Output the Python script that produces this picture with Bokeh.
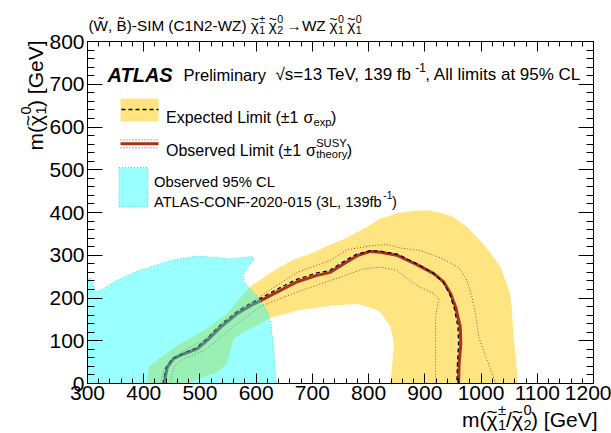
import math
from bokeh.plotting import figure
from bokeh.models import Range1d, LinearAxis, SingleIntervalTicker, Label
from bokeh.embed import file_html
from bokeh.resources import INLINE

# ---------------- data (GeV) ----------------
# expected +-1 sigma band: outer (upper) edge, left -> right
band_up_x = [406, 409, 430, 465, 507, 548, 588, 631, 667, 700, 732, 760, 791, 820, 850, 880, 905, 930, 950, 975, 1004, 1035, 1052, 1055, 1058, 1063, 1065]
band_up_y = [0, 38, 61, 93, 124, 163, 225, 264, 290, 305, 325, 340, 362, 385, 398, 404, 405, 399, 390, 366, 327, 272, 210, 171, 108, 46, 0]
# inner (lower) edge, right -> left
band_dn_x = [839, 842, 845, 839, 821, 803, 780, 732, 673, 625, 596, 572, 560, 554, 548, 530, 507, 489, 480]
band_dn_y = [0, 46, 93, 132, 167, 178, 186, 182, 171, 153, 132, 116, 104, 77, 46, 26, 15, 7, 0]

# observed limit
obs_x = [436, 442, 453, 471, 495, 513, 537, 566, 590, 608, 643, 673, 708, 732, 756, 780, 803, 821, 850, 886, 916, 934, 946, 955, 963, 964, 961, 960]
obs_y = [0, 38, 58, 69, 81, 101, 132, 163, 182, 194, 218, 238, 253, 260, 280, 299, 309, 307, 300, 278, 257, 237, 210, 178, 132, 93, 46, 0]
# expected limit
exp_x = [434, 440, 451, 469, 493, 511, 535, 564, 588, 606, 641, 671, 706, 730, 754, 778, 803, 823, 852, 886, 914, 932, 944, 952, 959, 960, 958, 957]
exp_y = [0, 38, 58, 70, 83, 103, 135, 166, 186, 198, 223, 243, 258, 264, 284, 302, 311, 309, 302, 280, 259, 238, 210, 178, 132, 93, 46, 0]
# observed +1 sigma(theory)
obs_up_x = [430, 436, 453, 477, 507, 537, 566, 602, 614, 673, 732, 762, 803, 833, 857, 892, 928, 960, 975, 984, 990, 996, 1011, 1026]
obs_up_y = [0, 34, 62, 81, 101, 140, 171, 198, 210, 260, 288, 313, 322, 325, 317, 311, 294, 272, 241, 202, 163, 108, 54, 0]
# observed -1 sigma(theory)
obs_dn_x = [448, 453, 471, 507, 531, 566, 602, 614, 673, 732, 791, 821, 850, 886, 916, 925, 919, 919, 919]
obs_dn_y = [0, 38, 58, 77, 101, 140, 175, 184, 214, 241, 268, 272, 265, 229, 210, 198, 155, 93, 0]

# ATLAS-CONF-2020-015 (3L) observed 95% CL region
cl3_x = [300, 300, 305, 310, 313, 329, 350, 388, 448, 495, 525, 554, 575, 593, 596, 586, 577, 579, 600, 620, 626, 631, 634, 636]
cl3_y = [0, 248, 245, 236, 213, 222, 240, 262, 288, 298, 295, 291, 294, 297, 290, 274, 255, 235, 207, 171, 140, 85, 30, 0]

X_MIN, X_MAX = 300, 1200
Y_MIN, Y_MAX = 0, 800

YELLOW = "#ffe482"
CYAN = "#00ffff"
RED = "#a8321c"
DOT = "#b5452b"
FONT = "Liberation Sans"

# canvas and plot-box placement (canvas pixels)
W, H = 611, 433
FL, FR, FT, FB = 87, 593, 41, 383
sx = (X_MAX - X_MIN) / (FR - FL)
sy = (Y_MAX - Y_MIN) / (FB - FT)

p = figure(width=W, height=H,
           x_range=Range1d(X_MIN - FL * sx, X_MAX + (W - FR) * sx),
           y_range=Range1d(Y_MIN - (H - FB) * sy, Y_MAX + FT * sy),
           x_axis_location=None, y_axis_location=None,
           output_backend="svg", toolbar_location=None,
           min_border=0, min_border_left=0, min_border_right=0,
           min_border_top=0, min_border_bottom=0)
p.title.visible = False
p.extra_x_ranges = {"px": Range1d(0, W)}
p.extra_y_ranges = {"px": Range1d(H, 0)}
p.xgrid.visible = False
p.ygrid.visible = False
p.outline_line_color = None
p.background_fill_color = "white"
p.border_fill_color = "white"

# ---------------- data glyphs ----------------
p.patch(band_up_x + band_dn_x, band_up_y + band_dn_y, fill_color=YELLOW, line_color=None)
p.line(obs_up_x, obs_up_y, line_color=DOT, line_width=1, line_dash="1 2")
p.line(obs_dn_x, obs_dn_y, line_color=DOT, line_width=1, line_dash="1 2")
p.line(obs_x, obs_y, line_color=RED, line_width=3)
p.line(exp_x, exp_y, line_color="black", line_width=1.3, line_dash="4 3")
p.patch(cl3_x, cl3_y, fill_color=CYAN, fill_alpha=0.4, line_color="#33dddd", line_width=1, line_dash="1 2")


# ---------------- axes (box drawn by four axes) ----------------
def make_axis(loc, bounds, major, minor, labels):
    ax = LinearAxis(fixed_location=loc, bounds=bounds)
    ax.ticker = SingleIntervalTicker(interval=100, num_minor_ticks=5)
    ax.major_tick_in = major
    ax.major_tick_out = 0
    ax.minor_tick_in = minor
    ax.minor_tick_out = 0
    ax.major_tick_line_color = "black"
    ax.minor_tick_line_color = "black"
    ax.axis_line_color = "black"
    ax.axis_line_width = 1
    if labels:
        ax.major_label_text_font = FONT
        ax.major_label_text_font_size = "21px"
        ax.major_label_text_color = "black"
    else:
        ax.major_label_text_color = None
    return ax


bottom = make_axis(Y_MIN, (X_MIN, X_MAX), 10, 5, True)
bottom.major_label_standoff = 2
p.add_layout(bottom, "below")
left = make_axis(X_MIN, (Y_MIN, Y_MAX), 15, 7, True)
left.major_label_standoff = 3
p.add_layout(left, "left")
p.add_layout(make_axis(Y_MAX, (X_MIN, X_MAX), 10, 5, False), "above")
p.add_layout(make_axis(X_MAX, (Y_MIN, Y_MAX), 15, 7, False), "right")

# ---------------- rich text helper ----------------
WID = {' ': 278, '(': 333, ')': 333, ',': 278, '-': 333, '.': 278, '/': 278, '=': 584, '[': 278, ']': 278,
       '%': 889, '±': 584, '√': 549, '→': 1000, 'χ': 520, 'σ': 600, '~': 584, '\u0303': 0}
for c in "0123456789":
    WID[c] = 556
WID.update({'A': 667, 'B': 667, 'C': 722, 'D': 722, 'E': 667, 'F': 611, 'G': 778, 'I': 278, 'L': 556,
            'M': 833, 'N': 722, 'O': 778, 'P': 667, 'S': 667, 'T': 611, 'U': 722, 'V': 667, 'W': 944,
            'Y': 667, 'Z': 611, 'a': 556, 'b': 556, 'c': 500, 'd': 556, 'e': 556, 'f': 278, 'h': 556,
            'i': 222, 'l': 222, 'm': 833, 'n': 556, 'o': 556, 'p': 556, 'r': 333, 's': 500, 't': 278,
            'v': 500, 'x': 500, 'y': 500})


def tw(s, size):
    return sum(WID.get(c, 556) for c in (s or "")) / 1000.0 * size


def put(x, y, text, size, angle=0.0, style="normal"):
    p.add_layout(Label(x=x, y=y, x_range_name="px", y_range_name="px", text=text,
                       text_font=FONT, text_font_size=f"{size:.1f}px", text_font_style=style,
                       text_color="black", text_baseline="alphabetic", text_align="left",
                       angle=angle))


TIL = "~"  # marks a base letter that carries a tilde accent


def rich(x, y, runs, size, angle=0.0, align="left", gap=0.0):
    ax, ay = math.cos(angle), -math.sin(angle)
    ux, uy = -math.sin(angle), -math.cos(angle)
    ss = size * 0.7

    def base_w(b):
        return tw(b.replace(TIL, ""), size)

    def rw(r):
        if isinstance(r, str):
            return tw(r, size)
        b, sb, sp = r
        return base_w(b) + max(tw(sb, ss), tw(sp, ss)) + gap * size
    total = sum(rw(r) for r in runs)
    if align == "right":
        x -= total * ax
        y -= total * ay
    pos = 0.0
    for r in runs:
        if isinstance(r, str):
            put(x + pos * ax, y + pos * ay, r, size, angle)
        else:
            b, sb, sp = r
            bb = b.replace(TIL, "")
            if bb:
                put(x + pos * ax, y + pos * ay, bb, size, angle)
            if TIL in b:
                ts = size * 0.9
                q = pos + (base_w(b) - tw("~", ts)) / 2
                d = 0.36 * size
                put(x + q * ax + d * ux, y + q * ay + d * uy, "~", ts, angle)
            q = pos + base_w(b) + 0.03 * size
            if sb:
                d = -0.27 * size
                put(x + q * ax + d * ux, y + q * ay + d * uy, sb, ss, angle)
            if sp:
                d = 0.43 * size
                put(x + q * ax + d * ux, y + q * ay + d * uy, sp, ss, angle)
        pos += rw(r)


CHI = "χ" + TIL

# title
rich(88, 25, ["(W\u0303, B\u0303)-SIM (C1N2-WZ) ", (CHI, "1", "±"), (CHI, "2", "0"), ("→WZ", None, None),
              (CHI, "1", "0"), (CHI, "1", "0")], 15.3, gap=0.25)

# ATLAS label line
put(107, 74, "ATLAS", 20, style="bold italic")
put(183, 74, "Preliminary", 16.5)
rich(275, 74, ["√s=13 TeV, 139 fb", ("", None, "-1"), ", All limits at 95% CL"], 17)

# legend samples (canvas pixel coordinates)
p.quad(left=[120], right=[158], top=[98], bottom=[121], x_range_name="px", y_range_name="px",
       fill_color=YELLOW, line_color=None)
p.line([121, 158], [109, 109], x_range_name="px", y_range_name="px", line_color="black",
       line_width=1.3, line_dash="4 3")
p.line([120, 158], [143.3, 143.3], x_range_name="px", y_range_name="px", line_color=RED, line_width=3)
p.line([120, 158], [139.3, 139.3], x_range_name="px", y_range_name="px", line_color=DOT,
       line_width=1, line_dash="1 2")
p.line([120, 158], [147.3, 147.3], x_range_name="px", y_range_name="px", line_color=DOT,
       line_width=1, line_dash="1 2")
p.quad(left=[118.5], right=[147.5], top=[167], bottom=[206.5], x_range_name="px", y_range_name="px",
       fill_color=CYAN, fill_alpha=0.4, line_color="#33dddd", line_width=1, line_dash="1 2")

rich(165.5, 116.7, ["Expected Limit (±1 ", ("σ", "exp", None), ")"], 16)
rich(165.5, 149.5, ["Observed Limit (±1 ", ("σ", "theory", "SUSY"), ")"], 16)
put(153.5, 181.7, "Observed 95% CL", 14.8)
rich(153.5, 201, ["ATLAS-CONF-2020-015 (3L, 139fb", ("", None, "-1"), ")"], 14.6)

# axis titles
rich(597, 419, ["m(", (CHI, "1", "±"), "/", (CHI, "2", "0"), ") [GeV]"], 21, align="right")
rich(35, 40, ["m(", (CHI, "1", "0"), ") [GeV]"], 21, angle=math.pi / 2, align="right")

open("out.html", "w").write(file_html(p, INLINE))
